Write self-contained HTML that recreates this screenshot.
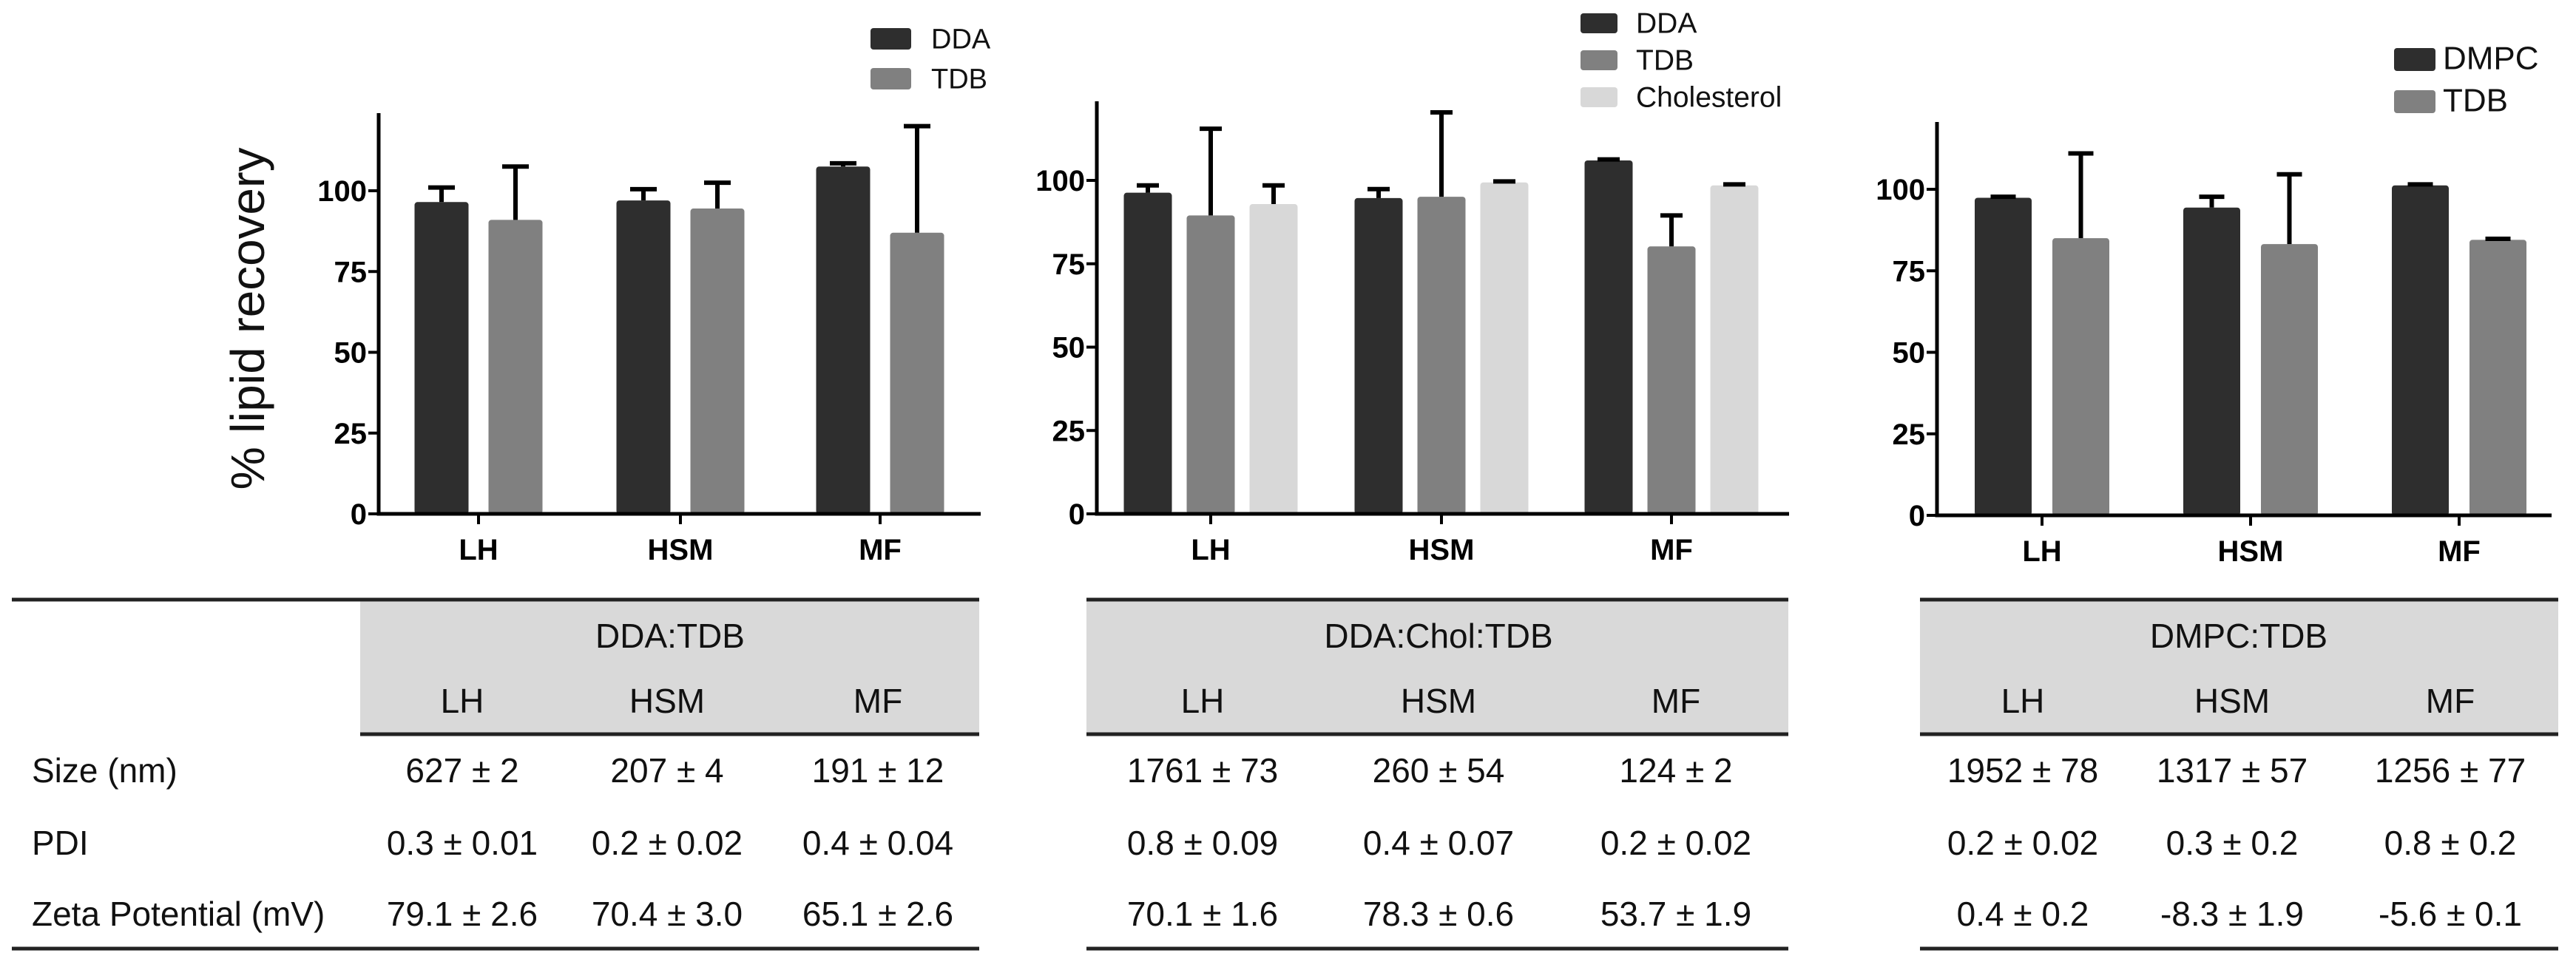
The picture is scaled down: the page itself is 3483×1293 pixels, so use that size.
<!DOCTYPE html>
<html><head><meta charset="utf-8"><style>
body{margin:0;background:#fff}
svg{display:block}
.tk{font-family:"Liberation Sans Narrow","Liberation Sans",sans-serif;font-weight:bold;font-size:40px;fill:#000}
.tk2{font-family:"Liberation Sans",sans-serif;font-weight:bold;font-size:40px;fill:#000}
.lg1{font-family:"Liberation Sans",sans-serif;font-size:38px;fill:#111}
.lg2{font-family:"Liberation Sans",sans-serif;font-size:39px;fill:#111}
.lg3{font-family:"Liberation Sans",sans-serif;font-size:44px;fill:#111}
.tb{font-family:"Liberation Sans Narrow","Liberation Sans",sans-serif;font-size:46px;fill:#111}
</style></head><body>
<svg id="fig" width="3483" height="1293" viewBox="0 0 3483 1293" xmlns="http://www.w3.org/2000/svg">
<text transform="translate(357,431) rotate(-90)" text-anchor="middle" textLength="463" lengthAdjust="spacingAndGlyphs" style="font-family:'Liberation Sans',sans-serif;font-size:64px;fill:#111">% lipid recovery</text>
</svg>
<script>
const categories = ["LH","HSM","MF"];
const yTicks = [0,25,50,75,100];
// chart 1: DDA:TDB
const c1Series = ["DDA","TDB"];
const c1DDA = [96.5,97,107.5];
const c1DDAerr = [4.5,3.5,1];
const c1TDB = [91,94.5,87];
const c1TDBerr = [16.5,8,33];
// chart 2: DDA:Chol:TDB
const c2Series = ["DDA","TDB","Cholesterol"];
const c2DDA = [96.3,94.7,106];
const c2DDAerr = [2.2,2.7,0.3];
const c2TDB = [89.5,95.1,80.2];
const c2TDBerr = [26,25.3,9.3];
const c2Chol = [92.9,99.4,98.5];
const c2Cholerr = [5.6,0.3,0.3];
// chart 3: DMPC:TDB
const c3Series = ["DMPC","TDB"];
const c3DMPC = [97.4,94.4,101.2];
const c3DMPCerr = [0.3,3.3,0.3];
const c3TDB = [85,83.2,84.5];
const c3TDBerr = [26,21.4,0.3];
// tables
const t1Title = "DDA:TDB", t2Title = "DDA:Chol:TDB", t3Title = "DMPC:TDB";
const rowLabels = ["Size (nm)","PDI","Zeta Potential (mV)"];
const t1Vals = [["627 ± 2","207 ± 4","191 ± 12"],["0.3 ± 0.01","0.2 ± 0.02","0.4 ± 0.04"],["79.1 ± 2.6","70.4 ± 3.0","65.1 ± 2.6"]];
const t2Vals = [["1761 ± 73","260 ± 54","124 ± 2"],["0.8 ± 0.09","0.4 ± 0.07","0.2 ± 0.02"],["70.1 ± 1.6","78.3 ± 0.6","53.7 ± 1.9"]];
const t3Vals = [["1952 ± 78","1317 ± 57","1256 ± 77"],["0.2 ± 0.02","0.3 ± 0.2","0.8 ± 0.2"],["0.4 ± 0.2","-8.3 ± 1.9","-5.6 ± 0.1"]];

const NS="http://www.w3.org/2000/svg";
const svg=document.getElementById('fig');
function mk(tag,attrs,parent,text){const e=document.createElementNS(NS,tag);for(const k in attrs)e.setAttribute(k,attrs[k]);if(text!==undefined)e.textContent=text;(parent||svg).appendChild(e);return e;}
const COL={dark:"#2e2e2e",mid:"#808080",light:"#d8d8d8"};

function chart(cfg){
  const g=mk('g',{});
  
  
  const y=v=>cfg.y0-(v/100)*(cfg.y0-cfg.y100);
  cfg.series.forEach((s,si)=>{
    categories.forEach((c,ci)=>{
      const cx=cfg.centers[ci]+(si-(cfg.series.length-1)/2)*cfg.step;
      const v=s.vals[ci], e=s.err[ci];
      const top=y(v);
      const r=mk('rect',{x:cx-cfg.bw/2,y:top,width:cfg.bw,height:cfg.y0-top,rx:4,fill:s.color},g);
      
      
      const ey=y(v+e);
      const eb=mk('path',{d:`M${cx} ${top} V${ey} M${cx-cfg.cap/2} ${ey} H${cx+cfg.cap/2}`,stroke:"#000","stroke-width":6,fill:"none"},g);
      
      
    });
  });
  const ax=mk('path',{d:`M${cfg.ax} ${cfg.top} V${cfg.y0} H${cfg.right}`,stroke:"#000","stroke-width":5,fill:"none"},g);
  
  
  yTicks.forEach(t=>{
    const ty=y(t);
    const l=mk('line',{x1:cfg.ax-14,x2:cfg.ax,y1:ty,y2:ty,stroke:"#000","stroke-width":4},g);
    
    
    const tx=mk('text',{x:cfg.ax-16,y:ty+14,'text-anchor':'end',class:cfg.tkc},g,String(t));
    
    
  });
  categories.forEach((c,ci)=>{
    const l=mk('line',{x1:cfg.centers[ci],x2:cfg.centers[ci],y1:cfg.y0,y2:cfg.y0+14,stroke:"#000","stroke-width":4},g);
    
    
    const tx=mk('text',{x:cfg.centers[ci],y:cfg.y0+62,'text-anchor':'middle',class:cfg.tkc},g,c);
    
    
  });
  cfg.series.forEach((s,si)=>{
    const ly=cfg.leg.y+si*cfg.leg.dy;
    const r=mk('rect',{x:cfg.leg.x,y:ly,width:cfg.leg.w,height:cfg.leg.h,rx:4,fill:s.color},g);
    
    
    const t=mk('text',{x:cfg.leg.tx,y:ly+cfg.leg.h/2+13,class:cfg.leg.cls},g,s.label);
    
    
  });
}
chart({name:'chart-dda-tdb',ax:512,top:153,y0:695,y100:258,right:1326,centers:[647,920,1190],step:100,bw:73,cap:36,tkc:'tk',
  series:[{label:c1Series[0],vals:c1DDA,err:c1DDAerr,color:COL.dark},{label:c1Series[1],vals:c1TDB,err:c1TDBerr,color:COL.mid}],
  leg:{x:1177,y:38,dy:54,w:55,h:29,tx:1259,cls:'lg1'}});
chart({name:'chart-dda-chol-tdb',ax:1483,top:137,y0:695,y100:244,right:2419,centers:[1637,1949,2260],step:85,bw:65,cap:30,tkc:'tk2',
  series:[{label:c2Series[0],vals:c2DDA,err:c2DDAerr,color:COL.dark},{label:c2Series[1],vals:c2TDB,err:c2TDBerr,color:COL.mid},{label:c2Series[2],vals:c2Chol,err:c2Cholerr,color:COL.light}],
  leg:{x:2137,y:18,dy:50,w:50,h:27,tx:2212,cls:'lg2'}});
chart({name:'chart-dmpc-tdb',ax:2619,top:165,y0:697,y100:256,right:3450,centers:[2761,3043,3325],step:105,bw:77,cap:34,tkc:'tk2',
  series:[{label:c3Series[0],vals:c3DMPC,err:c3DMPCerr,color:COL.dark},{label:c3Series[1],vals:c3TDB,err:c3TDBerr,color:COL.mid}],
  leg:{x:3237,y:65,dy:57,w:56,h:31,tx:3303,cls:'lg3'}});

function table(cfg){
  const g=mk('g',{});
  
  
  const h=mk('rect',{x:cfg.hx,y:811,width:cfg.x2-cfg.hx,height:182,fill:"#d9d9d9"},g);
  
  
  [[cfg.x1,811],[cfg.hx,993],[cfg.x1,1283]].forEach(([x,yy])=>{
    const l=mk('line',{x1:x,x2:cfg.x2,y1:yy,y2:yy,stroke:"#222","stroke-width":5},g);
    
    
  });
  const t=mk('text',{x:cfg.tc,y:876,'text-anchor':'middle',class:'tb'},g,cfg.title);
  
  
  categories.forEach((c,ci)=>{
    const e=mk('text',{x:cfg.cols[ci],y:964,'text-anchor':'middle',class:'tb'},g,c);
    
    
  });
  const rows=[1058,1156,1252];
  if(cfg.labels){rowLabels.forEach((r,ri)=>{
    const e=mk('text',{x:43,y:rows[ri],class:'tb'},g,r);
    
    
  });}
  cfg.vals.forEach((row,ri)=>row.forEach((v,ci)=>{
    const e=mk('text',{x:cfg.cols[ci],y:rows[ri],'text-anchor':'middle',class:'tb'},g,v);
    
    
  }));
}
table({name:'table-dda-tdb',x1:16,hx:487,x2:1324,tc:906,cols:[625,902,1187],title:t1Title,vals:t1Vals,labels:true});
table({name:'table-dda-chol-tdb',x1:1469,hx:1469,x2:2418,tc:1945,cols:[1626,1945,2266],title:t2Title,vals:t2Vals});
table({name:'table-dmpc-tdb',x1:2596,hx:2596,x2:3459,tc:3027,cols:[2735,3018,3313],title:t3Title,vals:t3Vals});
</script>
</body></html>
